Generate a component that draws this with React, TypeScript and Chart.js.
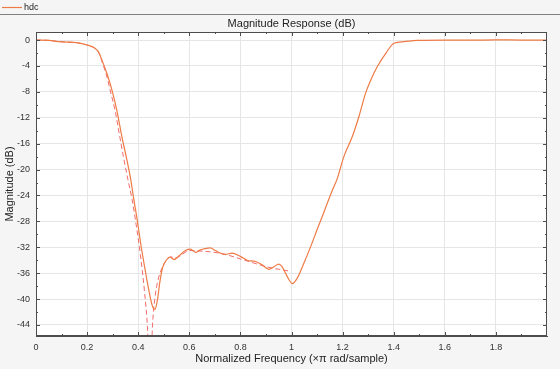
import React, { useEffect, useRef } from "react";
import { Chart, registerables } from "chart.js";

Chart.register(...registerables);

// Solid response "hdc": [normalized frequency, magnitude dB]
const hdcFreq = [0, 0.05, 0.094, 0.16, 0.2, 0.225, 0.244, 0.258, 0.277, 0.297, 0.316, 0.336, 0.353, 0.371, 0.382, 0.395, 0.41, 0.425, 0.44, 0.455, 0.465, 0.475, 0.485, 0.495, 0.51, 0.525, 0.54, 0.56, 0.585, 0.605, 0.625, 0.643, 0.662, 0.682, 0.702, 0.722, 0.741, 0.767, 0.8, 0.826, 0.859, 0.885, 0.911, 0.931, 0.95, 0.963, 0.983, 1.003, 1.022, 1.048, 1.075, 1.1, 1.12, 1.14, 1.16, 1.179, 1.205, 1.238, 1.264, 1.29, 1.31, 1.336, 1.369, 1.401, 1.44, 1.493, 1.6, 1.7, 1.8, 1.9, 2.0];
const hdcMag = [0, -0.05, -0.26, -0.41, -0.77, -1.13, -1.8, -3.1, -5.1, -7.7, -10.8, -14.9, -18.0, -21.6, -24.4, -27.5, -31.5, -35, -38.3, -41, -41.6, -40.2, -37.3, -35.2, -34, -33.5, -33.9, -33.3, -32.5, -32.3, -32.8, -32.4, -32.2, -32.1, -32.5, -32.9, -33.1, -32.9, -33.4, -34.0, -34.2, -34.7, -35.4, -35.0, -34.6, -35.0, -36.5, -37.6, -36.8, -34.5, -31.9, -29.3, -27.3, -25.2, -23.2, -21.4, -18.0, -14.9, -11.8, -8.2, -6.2, -4.1, -2.05, -0.5, -0.25, -0.05, 0, -0.03, 0.02, 0, 0];

// Dashed reference response
const refFreq = [0, 0.05, 0.094, 0.16, 0.2, 0.225, 0.244, 0.258, 0.277, 0.29, 0.31, 0.326, 0.342, 0.36, 0.375, 0.39, 0.408, 0.425, 0.437, 0.447, 0.455, 0.465, 0.478, 0.49, 0.505, 0.52, 0.535, 0.55, 0.575, 0.6, 0.65, 0.7, 0.75, 0.8, 0.85, 0.9, 0.95, 0.996];
const refMag = [0, -0.05, -0.26, -0.41, -0.77, -1.13, -1.85, -3.3, -5.6, -7.7, -11, -14.5, -18, -21.6, -24.4, -28, -33, -39, -45, -56, -45, -40, -37, -35.5, -34.3, -33.6, -33.5, -33.6, -33, -32.5, -32.6, -32.8, -33.2, -33.8, -34.4, -35, -35.4, -35.7];

const xTicks = [0, 0.2, 0.4, 0.6, 0.8, 1, 1.2, 1.4, 1.6, 1.8];
const xMinor = [0.1, 0.3, 0.5, 0.7, 0.9, 1.1, 1.3, 1.5, 1.7, 1.9];
const yTicks = [0, -4, -8, -12, -16, -20, -24, -28, -32, -36, -40, -44];
const yMinor = [-2, -6, -10, -14, -18, -22, -26, -30, -34, -38, -42];

const FONT = "'Liberation Sans', Arial, Helvetica, sans-serif";
const SOLID_COLOR = "#ee7b45";
const DASH_COLOR = "#f36b6b";

const decorPlugin = {
  id: "decor",
  beforeDraw(chart: any) {
    const { ctx, chartArea: a, width, height } = chart;
    ctx.save();
    ctx.fillStyle = "#f5f5f5";
    ctx.fillRect(0, 0, width, height);
    ctx.fillStyle = "#ffffff";
    ctx.fillRect(a.left, a.top, a.right - a.left, a.bottom - a.top);
    ctx.restore();
  },
  afterDraw(chart: any) {
    const { ctx, chartArea: a, width } = chart;
    const xs = chart.scales.x;
    const ys = chart.scales.y;
    ctx.save();
    // legend strip
    ctx.strokeStyle = "#808080";
    ctx.lineWidth = 1;
    ctx.beginPath();
    ctx.moveTo(0, 14.5);
    ctx.lineTo(width, 14.5);
    ctx.stroke();
    const ds = chart.data.datasets[0];
    ctx.strokeStyle = SOLID_COLOR;
    ctx.lineWidth = 1.2;
    ctx.beginPath();
    ctx.moveTo(2, 7.5);
    ctx.lineTo(22, 7.5);
    ctx.stroke();
    ctx.fillStyle = "#222";
    ctx.font = `9px ${FONT}`;
    ctx.textAlign = "left";
    ctx.textBaseline = "middle";
    ctx.fillText(ds.label, 24, 7.5);
    // title
    ctx.font = `11px ${FONT}`;
    ctx.textAlign = "center";
    ctx.fillStyle = "#222";
    ctx.fillText("Magnitude Response (dB)", (a.left + a.right) / 2, 24);
    // box
    ctx.strokeStyle = "#4d4d4d";
    ctx.lineWidth = 1;
    ctx.strokeRect(Math.round(a.left) + 0.5, Math.round(a.top) + 0.5, Math.round(a.right - a.left) - 1, Math.round(a.bottom - a.top) - 1);
    // inside ticks
    ctx.beginPath();
    const tickX = (v: number, len: number) => {
      const px = Math.round(xs.getPixelForValue(v)) + 0.5;
      ctx.moveTo(px, a.bottom);
      ctx.lineTo(px, a.bottom - len);
      ctx.moveTo(px, a.top);
      ctx.lineTo(px, a.top + len);
    };
    const tickY = (v: number, len: number) => {
      const py = Math.round(ys.getPixelForValue(v)) + 0.5;
      ctx.moveTo(a.left, py);
      ctx.lineTo(a.left + len, py);
      ctx.moveTo(a.right, py);
      ctx.lineTo(a.right - len, py);
    };
    xTicks.forEach((v) => tickX(v, 4));
    xMinor.forEach((v) => tickX(v, 2));
    yTicks.forEach((v) => tickY(v, 4));
    yMinor.forEach((v) => tickY(v, 2));
    ctx.stroke();
    ctx.restore();
  },
};

export default function App() {
  const ref = useRef<HTMLCanvasElement | null>(null);
  useEffect(() => {
    if (!ref.current) return;
    const chart = new Chart(ref.current, {
      type: "line",
      data: {
        datasets: [
          {
            label: "hdc",
            data: hdcFreq.map((x, i) => ({ x, y: hdcMag[i] })),
            borderColor: SOLID_COLOR,
            borderWidth: 1.2,
            pointRadius: 0,
            cubicInterpolationMode: "monotone",
            fill: false,
          },
          {
            label: "reference",
            data: refFreq.map((x, i) => ({ x, y: refMag[i] })),
            borderColor: DASH_COLOR,
            borderWidth: 1,
            borderDash: [5, 3],
            pointRadius: 0,
            cubicInterpolationMode: "monotone",
            fill: false,
          },
        ],
      },
      options: {
        animation: false,
        responsive: false,
        maintainAspectRatio: false,
        layout: { padding: { top: 32, right: 13, left: 0, bottom: 0 } },
        plugins: { legend: { display: false }, title: { display: false }, tooltip: { enabled: false } },
        scales: {
          x: {
            type: "linear",
            min: 0,
            max: 2,
            afterBuildTicks: (s: any) => {
              s.ticks = xTicks.map((v) => ({ value: v }));
            },
            afterFit: (s: any) => {
              s.height = 33;
            },
            ticks: {
              font: { size: 9, family: FONT },
              color: "#333",
              padding: 6,
              maxRotation: 0,
              autoSkip: false,
              callback: (v: any) => String(Math.round(Number(v) * 10) / 10),
            },
            grid: { color: "#e6e6e6", drawTicks: false },
            border: { color: "#4d4d4d" },
            title: {
              display: true,
              text: "Normalized Frequency (\u00d7\u03c0 rad/sample)",
              font: { size: 11, family: FONT },
              color: "#222",
              padding: { top: 0, bottom: 3 },
            },
          },
          y: {
            type: "linear",
            min: -45.7,
            max: 1.24,
            afterBuildTicks: (s: any) => {
              s.ticks = yTicks.map((v) => ({ value: v }));
            },
            afterFit: (s: any) => {
              s.width = 36;
            },
            ticks: {
              font: { size: 9, family: FONT },
              color: "#333",
              padding: 6,
              autoSkip: false,
              callback: (v: any) => String(Math.round(Number(v))),
            },
            grid: { color: "#e6e6e6", drawTicks: false },
            border: { color: "#4d4d4d" },
            title: {
              display: true,
              text: "Magnitude (dB)",
              font: { size: 11, family: FONT },
              color: "#222",
              padding: { top: 3, bottom: 0 },
            },
          },
        },
      },
      plugins: [decorPlugin],
    } as any);
    return () => chart.destroy();
  }, []);
  return (
    <div style={{ position: "fixed", left: 0, top: 0, width: 560, height: 369 }}>
      <canvas ref={ref} width={560} height={369} style={{ width: 560, height: 369, display: "block" }} />
    </div>
  );
}
